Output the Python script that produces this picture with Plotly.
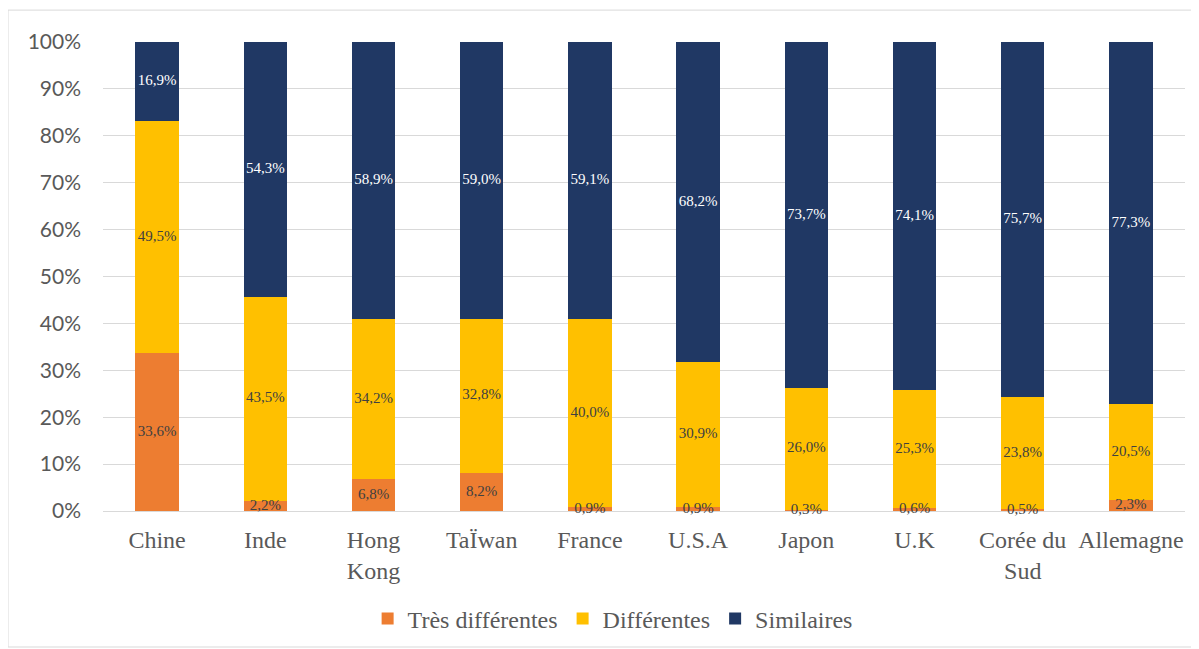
import plotly.graph_objects as go

# Data (percent)
pays = ["Chine", "Inde", "Hong<br>Kong", "TaÏwan", "France", "U.S.A", "Japon", "U.K", "Corée du<br>Sud", "Allemagne"]
tres_differentes = [33.6, 2.2, 6.8, 8.2, 0.9, 0.9, 0.3, 0.6, 0.5, 2.3]
differentes = [49.5, 43.5, 34.2, 32.8, 40.0, 30.9, 26.0, 25.3, 23.8, 20.5]
similaires = [16.9, 54.3, 58.9, 59.0, 59.1, 68.2, 73.7, 74.1, 75.7, 77.3]


def fmt(vals):
    return [f"{v:.1f}".replace(".", ",") + "%" for v in vals]


serif = "Liberation Serif, Times New Roman, serif"

series = [
    ("Très différentes", tres_differentes, "#ED7D31", "#404040"),
    ("Différentes", differentes, "#FFC000", "#404040"),
    ("Similaires", similaires, "#203864", "#FFFFFF"),
]

totals = [sum(t) for t in zip(tres_differentes, differentes, similaires)]

fig = go.Figure()
for name, vals, color, txtcol in series:
    fig.add_trace(go.Bar(
        x=pays,
        y=vals,
        name=name,
        marker=dict(color=color, line=dict(width=0)),
    ))

# data labels on top of every bar (centre of each normalised segment)
base = [0.0] * len(pays)
for name, vals, color, txtcol in series:
    centres = [(b + v / 2) / t * 100 for b, v, t in zip(base, vals, totals)]
    fig.add_trace(go.Scatter(
        x=pays,
        y=centres,
        mode="text",
        text=fmt(vals),
        textposition="middle center",
        textfont=dict(family=serif, size=15, color=txtcol),
        showlegend=False,
        hoverinfo="skip",
        cliponaxis=False,
    ))
    base = [b + v for b, v in zip(base, vals)]

# the page body adds an 8px margin, so the figure is 8px smaller each way
fig.update_layout(
    barmode="stack",
    barnorm="percent",
    bargap=0.6,
    width=1191,
    height=641,
    paper_bgcolor="white",
    plot_bgcolor="white",
    margin=dict(l=95, r=14, t=34, b=138, autoexpand=False),
    showlegend=True,
    legend=dict(
        orientation="h",
        x=0.471, xanchor="center",
        y=-0.23, yanchor="middle",
        font=dict(family=serif, size=24, color="#595959"),
        traceorder="normal",
        itemwidth=30,
    ),
    xaxis=dict(
        tickfont=dict(family=serif, size=24, color="#595959"),
        showgrid=False,
        showline=False,
        ticks="",
        ticklabelstandoff=12,
        automargin=False,
    ),
    yaxis=dict(
        range=[0, 100],
        dtick=10,
        ticksuffix="%",
        tickfont=dict(family="Lato, Liberation Sans, sans-serif", size=21, color="#595959"),
        gridcolor="#D9D9D9",
        gridwidth=1,
        zeroline=True,
        zerolinecolor="#D9D9D9",
        zerolinewidth=1,
        showline=False,
        ticklen=0,
        ticklabelstandoff=21,
        automargin=False,
    ),
    shapes=[dict(
        type="rect", xref="paper", yref="paper",
        x0=-0.0878, x1=1.0102, y0=-0.29, y1=1.068,
        line=dict(color="#D9D9D9", width=1),
        fillcolor="rgba(0,0,0,0)",
        layer="below",
    )],
)

fig.write_html("out.html")
